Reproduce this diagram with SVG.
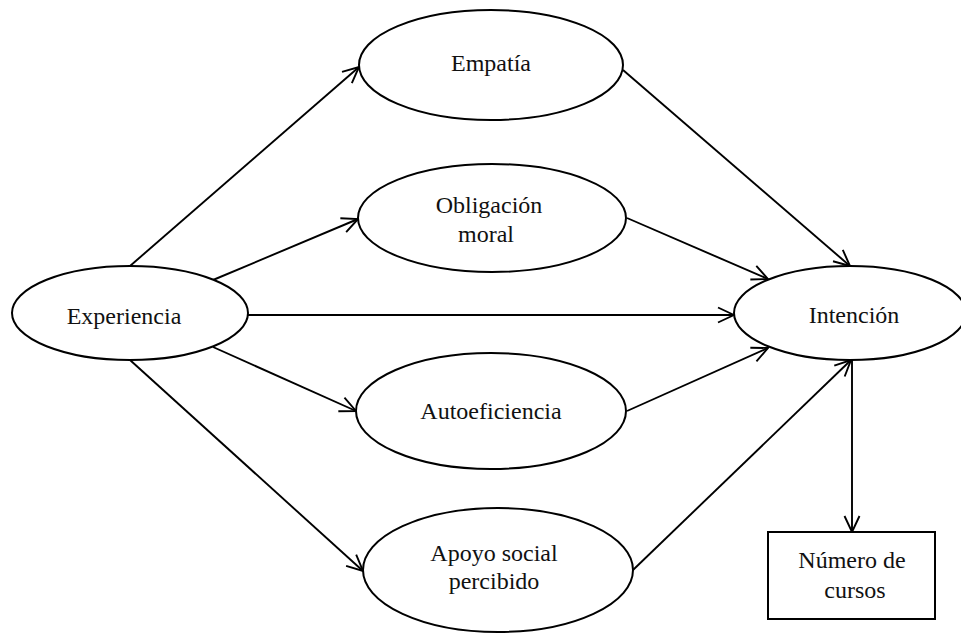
<svg xmlns="http://www.w3.org/2000/svg" width="961" height="633" viewBox="0 0 961 633">
<style>
.n{fill:#fff;stroke:#000;stroke-width:2}
.t{font-family:"Liberation Serif","Times New Roman",serif;font-size:24px;fill:#111;text-anchor:middle}
.c line{stroke:#000;stroke-width:1.9;fill:none}
</style>
<defs>
<marker id="ah" viewBox="0 0 18 18" refX="17" refY="9" markerWidth="18" markerHeight="18" markerUnits="userSpaceOnUse" orient="auto">
<path d="M1,1.5 L17,9 L1,16.5" fill="none" stroke="#000" stroke-width="1.9"/>
</marker>
</defs>
<rect width="961" height="633" fill="#fff"/>
<g class="c">
<line x1="130" y1="266" x2="359" y2="67" marker-end="url(#ah)"/>
<line x1="213" y1="280" x2="358" y2="219" marker-end="url(#ah)"/>
<line x1="248" y1="315" x2="734" y2="315" marker-end="url(#ah)"/>
<line x1="213" y1="347" x2="356" y2="411" marker-end="url(#ah)"/>
<line x1="130" y1="360" x2="363" y2="571" marker-end="url(#ah)"/>
<line x1="623" y1="70" x2="850" y2="266" marker-end="url(#ah)"/>
<line x1="627" y1="218" x2="768" y2="279" marker-end="url(#ah)"/>
<line x1="627" y1="411" x2="768" y2="348" marker-end="url(#ah)"/>
<line x1="633" y1="570" x2="851" y2="360" marker-end="url(#ah)"/>
<line x1="852" y1="360" x2="852" y2="532" marker-end="url(#ah)"/>
</g>
<g id="experiencia">
<ellipse class="n" cx="130" cy="313" rx="118" ry="47"/>
<text class="t" x="124" y="324">Experiencia</text>
</g>
<g id="empatia">
<ellipse class="n" cx="491" cy="65" rx="132" ry="55"/>
<text class="t" x="491" y="71">Empatía</text>
</g>
<g id="obligacion">
<ellipse class="n" cx="492" cy="218" rx="134" ry="54"/>
<text class="t" x="489" y="213">Obligación</text>
<text class="t" x="486" y="242">moral</text>
</g>
<g id="autoeficiencia">
<ellipse class="n" cx="491" cy="411" rx="135" ry="58"/>
<text class="t" x="491" y="419">Autoeficiencia</text>
</g>
<g id="apoyo">
<ellipse class="n" cx="498" cy="570" rx="135" ry="62"/>
<text class="t" x="494" y="561">Apoyo social</text>
<text class="t" x="494" y="589">percibido</text>
</g>
<g id="intencion">
<ellipse class="n" cx="850" cy="313" rx="116" ry="47"/>
<text class="t" x="854" y="323">Intención</text>
</g>
<g id="numero">
<rect class="n" x="768" y="532" width="167" height="87"/>
<text class="t" x="852" y="568">Número de</text>
<text class="t" x="855" y="598">cursos</text>
</g>
</svg>
